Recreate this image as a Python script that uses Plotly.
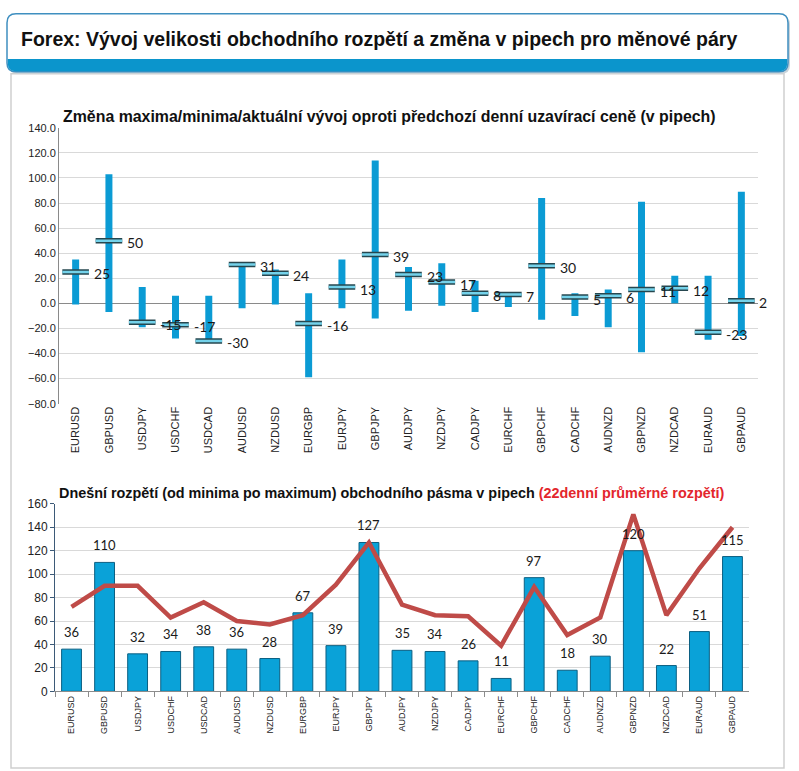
import plotly.graph_objects as go

W, H = 799, 771

pairs = ["EURUSD", "GBPUSD", "USDJPY", "USDCHF", "USDCAD", "AUDUSD", "NZDUSD", "EURGBP",
         "EURJPY", "GBPJPY", "AUDJPY", "NZDJPY", "CADJPY", "EURCHF", "GBPCHF", "CADCHF",
         "AUDNZD", "GBPNZD", "NZDCAD", "EURAUD", "GBPAUD"]

# top chart: change of max / min / current vs previous close (pips)
max_change = [35, 103, 13, 6, 6, 33, 27, 8, 35, 114, 29, 32, 18, 9, 84, 8, 11, 81, 22, 22, 89]
min_change = [-1, -7, -19, -28, -31, -4, -1, -59, -4, -12, -6, -2, -7, -3, -13, -10, -19, -39, 0, -29, -26]
current_change = [25, 50, -15, -17, -30, 31, 24, -16, 13, 39, 23, 17, 8, 7, 30, 5, 6, 11, 12, -23, 2]

# bottom chart: today's range and 22-day average range (pips)
today_range = [36, 110, 32, 34, 38, 36, 28, 67, 39, 127, 35, 34, 26, 11, 97, 18, 30, 120, 22, 51, 115]
avg22_range = [72, 90, 90, 63, 76, 60, 57, 65, 91, 127, 74, 65, 64, 39, 89, 48, 63, 151, 65, 105, 140]

top_yticks = [-80, -60, -40, -20, 0, 20, 40, 60, 80, 100, 120, 140]
bot_yticks = [0, 20, 40, 60, 80, 100, 120, 140, 160]

FONT = "Liberation Sans"


def px(x):
    return x / W


def py(y):
    return 1 - y / H


def rrect(x0, y0, x1, y1, r, top=True, bottom=True):
    rt = r if top else 0
    rb = r if bottom else 0
    pts = []
    pts.append(f"M {px(x0 + rt)},{py(y0)}")
    pts.append(f"L {px(x1 - rt)},{py(y0)}")
    pts.append(f"Q {px(x1)},{py(y0)} {px(x1)},{py(y0 + rt)}")
    pts.append(f"L {px(x1)},{py(y1 - rb)}")
    pts.append(f"Q {px(x1)},{py(y1)} {px(x1 - rb)},{py(y1)}")
    pts.append(f"L {px(x0 + rb)},{py(y1)}")
    pts.append(f"Q {px(x0)},{py(y1)} {px(x0)},{py(y1 - rb)}")
    pts.append(f"L {px(x0)},{py(y0 + rt)}")
    pts.append(f"Q {px(x0)},{py(y0)} {px(x0 + rt)},{py(y0)}")
    pts.append("Z")
    return " ".join(pts)


fig = go.Figure()

# ---- top chart ----
fig.add_trace(go.Bar(
    x=pairs,
    y=[mx - mn for mx, mn in zip(max_change, min_change)],
    base=min_change,
    width=0.21,
    marker=dict(color="#0b9bd4", line=dict(width=0)),
    xaxis="x", yaxis="y", showlegend=False, hoverinfo="skip",
))
fig.add_trace(go.Scatter(
    x=pairs, y=current_change, mode="markers",
    marker=dict(symbol="line-ew", size=19, line=dict(width=5.5, color="#26474f")),
    xaxis="x", yaxis="y", showlegend=False, hoverinfo="skip",
))
fig.add_trace(go.Scatter(
    x=pairs, y=current_change, mode="markers",
    marker=dict(symbol="line-ew", size=19, line=dict(width=2.5, color="#74d2ea")),
    xaxis="x", yaxis="y", showlegend=False, hoverinfo="skip",
))

annotations = []
for p, c in zip(pairs, current_change):
    annotations.append(dict(
        x=p, y=c, xref="x", yref="y", text=str(c), showarrow=False,
        xanchor="left", yanchor="middle", xshift=16, yshift=-2,
        font=dict(family="Lato", size=14, color="#1a1a1a"),
    ))

# ---- bottom chart ----
fig.add_trace(go.Bar(
    x=pairs, y=today_range, width=0.6,
    marker=dict(color="#0aa2d8", line=dict(width=1, color="#0b5f82")),
    xaxis="x2", yaxis="y2", showlegend=False, hoverinfo="skip",
))
for p, v in zip(pairs, today_range):
    annotations.append(dict(
        x=p, y=v, xref="x2", yref="y2", text=str(v), showarrow=False,
        xanchor="center", yanchor="bottom", yshift=7,
        font=dict(family="Lato", size=13, color="#1a1a1a"),
    ))
fig.add_trace(go.Scatter(
    x=pairs, y=avg22_range, mode="lines",
    line=dict(color="#bf4b48", width=4.5),
    xaxis="x2", yaxis="y2", showlegend=False, hoverinfo="skip",
))

# titles
annotations.append(dict(
    x=px(19), y=py(33), xref="paper", yref="paper", xanchor="left", yanchor="middle",
    text="<b>Forex: Vývoj velikosti obchodního rozpětí a změna v pipech pro měnové páry</b>",
    showarrow=False, font=dict(family=FONT, size=19.5, color="#111111"),
))
annotations.append(dict(
    x=px(61), y=py(112), xref="paper", yref="paper", xanchor="left", yanchor="middle",
    text="<b>Změna maxima/minima/aktuální vývoj oproti předchozí denní uzavírací ceně (v pipech)</b>",
    showarrow=False, font=dict(family=FONT, size=15.9, color="#111111"),
))
annotations.append(dict(
    x=px(57), y=py(495), xref="paper", yref="paper", xanchor="left", yanchor="middle",
    text="<b>Dnešní rozpětí (od minima po maximum) obchodního pásma v pipech "
         "<span style='color:#e3262d'>(22denní průměrné rozpětí)</span></b>",
    showarrow=False, font=dict(family=FONT, size=14.4, color="#111111"),
))

shapes = [
    # panel
    dict(type="rect", xref="paper", yref="paper", x0=px(11), x1=px(784), y0=py(775), y1=py(68),
         line=dict(color="#cfcfcf", width=1.5), fillcolor="white", layer="below"),
    # header shadow
    dict(type="path", xref="paper", yref="paper", path=rrect(9, 9, 790, 68, 9),
         line=dict(width=0), fillcolor="#c9d3da", layer="below"),
    # header box
    dict(type="path", xref="paper", yref="paper", path=rrect(7, 7, 788, 66, 9),
         line=dict(color="#3f8fc0", width=1.5), fillcolor="white", layer="below"),
    # header blue strip
    dict(type="path", xref="paper", yref="paper", path=rrect(7.8, 53, 787.2, 65.5, 8, top=False),
         line=dict(width=0), fillcolor="#0b95cc", layer="below"),
]

fig.update_layout(
    width=W, height=H,
    margin=dict(l=0, r=0, t=0, b=0),
    paper_bgcolor="white", plot_bgcolor="rgba(0,0,0,0)",
    barmode="overlay",
    font=dict(family=FONT, color="#222222"),
    annotations=annotations,
    shapes=shapes,
    xaxis=dict(
        domain=[px(59), px(758)], anchor="y", type="category",
        showline=False, showgrid=False, ticks="", tickangle=-90,
        tickfont=dict(family=FONT, size=11, color="#222222"),
        range=[-0.5, 20.5], fixedrange=True,
    ),
    yaxis=dict(
        domain=[py(404), py(123)], anchor="x",
        range=[-80, 140], tickvals=top_yticks, tickformat=".1f",
        showgrid=True, gridcolor="#d9d9d9", gridwidth=1,
        zeroline=True, zerolinecolor="#8a8a8a", zerolinewidth=1,
        showline=True, linecolor="#8a8a8a", linewidth=1,
        ticks="", tickfont=dict(family=FONT, size=11, color="#222222"),
        fixedrange=True,
    ),
    xaxis2=dict(
        domain=[px(55), px(749)], anchor="y2", type="category",
        showline=True, linecolor="#8c8c8c", linewidth=1,
        showgrid=False, ticks="outside", tickson="boundaries", ticklen=5,
        tickcolor="#8c8c8c", tickangle=-90,
        tickfont=dict(family=FONT, size=9, color="#222222"),
        range=[-0.5, 20.5], fixedrange=True,
    ),
    yaxis2=dict(
        domain=[py(697), py(506)], anchor="x2",
        range=[0, 160], tickvals=bot_yticks,
        showgrid=True, gridcolor="#d9d9d9", gridwidth=1, zeroline=False,
        showline=True, linecolor="#3d5a78", linewidth=1,
        ticks="outside", ticklen=4, tickcolor="#3d5a78",
        tickfont=dict(family=FONT, size=12, color="#222222"),
        fixedrange=True,
    ),
)

fig.write_html(
    "out.html",
    config={"displayModeBar": False},
    post_script="document.body.style.margin='0';document.body.style.overflow='hidden';",
)
